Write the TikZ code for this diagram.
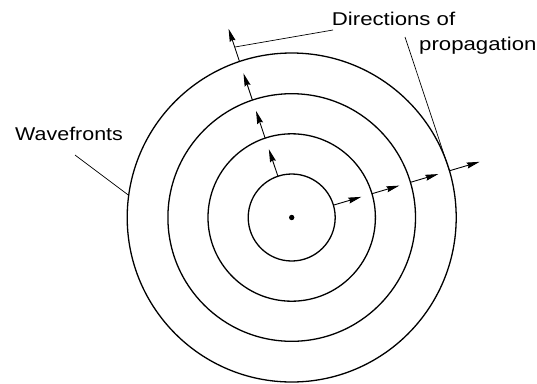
\documentclass[tikz,border=0pt]{standalone}
\usepackage{fontspec}
\setmainfont{Liberation Sans}
\usetikzlibrary{arrows.meta}
\begin{document}
\begin{tikzpicture}[x=1pt,y=-1pt,
  wave/.style={line width=1.3pt},
  prop/.style={line width=0.9pt,-{Stealth[length=13pt,width=6pt,inset=1.5pt]}},
  leader/.style={line width=0.7pt},
  lbl/.style={anchor=base west,inner sep=0pt,font=\fontsize{18.5}{22}\selectfont}]
\useasboundingbox (0,0) rectangle (537,383);
\coordinate (O) at (291.7,217.5);
% wavefronts
\foreach \r in {43.5,83.7,123.8,164.5}
  \draw[wave] (O) circle[radius=\r pt];
\fill (O) circle[radius=2.7pt];
% upward arrows
\coordinate (u1s) at ([shift={(O)}]-108.5:43.5);
\coordinate (u1e) at ([shift={(O)}]-108.5:72);
\coordinate (u2s) at ([shift={(O)}]-108.5:83.7);
\coordinate (u2e) at ([shift={(O)}]-108.5:112.4);
\coordinate (u3s) at ([shift={(O)}]-108.5:123.8);
\coordinate (u3e) at ([shift={(O)}]-108.5:152);
\coordinate (u4s) at ([shift={(O)}]-108.5:164.5);
\coordinate (u4e) at ([shift={(O)}]-108.5:199);
\foreach \i in {1,2,3,4} \draw[prop] (u\i s) -- (u\i e);
% rightward arrows
\coordinate (r1s) at ([shift={(O)}]-16.5:43.5);
\coordinate (r1e) at ([shift={(O)}]-16.5:72.6);
\coordinate (r2s) at ([shift={(O)}]-16.5:83.7);
\coordinate (r2e) at ([shift={(O)}]-16.5:112.3);
\coordinate (r3s) at ([shift={(O)}]-16.5:123.8);
\coordinate (r3e) at ([shift={(O)}]-16.5:152.9);
\coordinate (r4s) at ([shift={(O)}]-16.5:164.5);
\coordinate (r4e) at ([shift={(O)}]-16.5:196);
\foreach \i in {1,2,3,4} \draw[prop] (r\i s) -- (r\i e);
% labels
\node[lbl] (dir1) at (331.7,25) {\scalebox{1.2}[1]{Directions of}};
\node[lbl] (dir2) at (419,50.7) {\scalebox{1.2}[1]{propagation}};
\node[lbl] (wf) at (15,140.7) {\scalebox{1.16}[1]{Wavefronts}};
% leaders
\coordinate (d1a) at (333,30);
\coordinate (d1b) at (235,47);
\coordinate (d2a) at (405,37);
\coordinate (wfa) at (75,155);
\coordinate (wfb) at (128.3,195);
\draw[leader] (d1a) -- (d1b);
\draw[leader] (d2a) -- (r4s);
\draw[leader] (wfa) -- (wfb);
\end{tikzpicture}
\end{document}
